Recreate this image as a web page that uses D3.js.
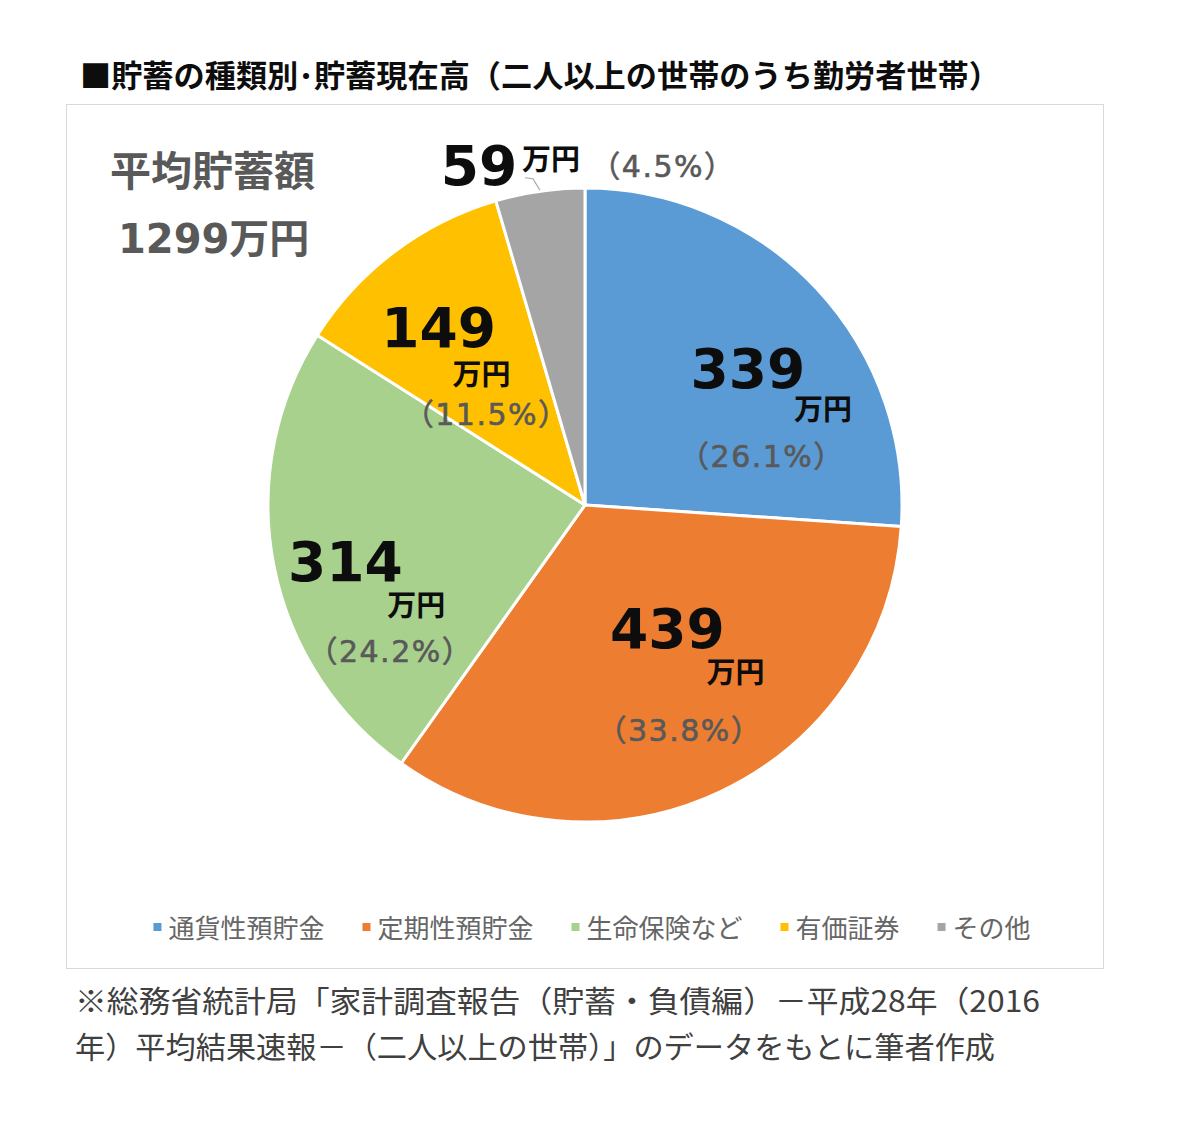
<!DOCTYPE html>
<html>
<head>
<meta charset="utf-8">
<script src="https://cdn.jsdelivr.net/npm/d3@7"></script>
<style>
  body { margin: 0; background: #fff; }
  svg { display: block; }
</style>
</head>
<body>
<div id="chart"></div>
<script>
// data
var categories = ["通貨性預貯金", "定期性預貯金", "生命保険など", "有価証券", "その他"];
var amounts = [339, 439, 314, 149, 59];
var shares = ["26.1%", "33.8%", "24.2%", "11.5%", "4.5%"];
var colors = ["#5B9BD5", "#ED7D31", "#A9D18E", "#FFC000", "#A5A5A5"];
var totalLabel = "1299万円";

// label layout: shift from centroid, then unit / percent offsets from number
var labelShift = [[24, 13], [1, -29], [-53, 39], [-32, -6], [-79, -132]];
var unitOff = [[75, 32], [68, 35], [71, 35], [43, 38], [72, -15]];
var pctOff = [[14, 79], [12, 93], [45, 81], [48, 78], [184, -8]];

var width = 1200, height = 1130;
var cx = 585, cy = 505, radius = 317;

var svg = d3.select("#chart").append("svg")
	.attr("width", width)
	.attr("height", height);

// title
svg.append("text")
	.attr("x", 80)
	.attr("y", 87)
	.attr("font-family", "Noto Sans CJK JP")
	.attr("font-weight", "bold")
	.attr("font-size", 31)
	.attr("fill", "#0d0d0d")
	.attr("textLength", 920)
	.attr("lengthAdjust", "spacingAndGlyphs")
	.text("■貯蓄の種類別･貯蓄現在高（二人以上の世帯のうち勤労者世帯）");

// chart frame
svg.append("rect")
	.attr("x", 66.5)
	.attr("y", 104.5)
	.attr("width", 1037)
	.attr("height", 864)
	.attr("fill", "#fff")
	.attr("stroke", "#d9d9d9");

svg.append("text")
	.attr("x", 110)
	.attr("y", 186)
	.attr("font-family", "Noto Sans CJK JP")
	.attr("font-weight", "bold")
	.attr("font-size", 41)
	.attr("fill", "#595959")
	.text("平均貯蓄額");

svg.append("text")
	.attr("x", 118)
	.attr("y", 253)
	.attr("font-family", "DejaVu Sans, Noto Sans CJK JP")
	.attr("font-weight", "bold")
	.attr("font-size", 40)
	.attr("fill", "#595959")
	.text(totalLabel);

var pie = d3.pie().sort(null).value(d => d);
var arcs = pie(amounts);

var arc = d3.arc().innerRadius(0).outerRadius(radius);
var labelArc = d3.arc().innerRadius(radius * 0.6).outerRadius(radius * 0.6);
var outerArc = d3.arc().innerRadius(radius).outerRadius(radius);

var g = svg.append("g")
	.attr("transform", "translate(" + cx + "," + cy + ")");

g.selectAll("path.slice")
	.data(arcs)
	.enter()
	.append("path")
	.attr("class", "slice")
	.attr("d", arc)
	.attr("fill", (d, i) => colors[i])
	.attr("stroke", "#fff")
	.attr("stroke-width", 3)
	.attr("stroke-linejoin", "round");

var labels = g.selectAll("g.label")
	.data(arcs)
	.enter()
	.append("g")
	.attr("class", "label")
	.attr("transform", (d, i) => {
		var c = labelArc.centroid(d);
		return "translate(" + (c[0] + labelShift[i][0]) + "," + (c[1] + labelShift[i][1]) + ")";
	});

labels.append("text")
	.attr("text-anchor", "middle")
	.attr("font-family", "DejaVu Sans")
	.attr("font-weight", "bold")
	.attr("font-size", 55)
	.attr("fill", "#0d0d0d")
	.text(d => d.data);

labels.append("text")
	.attr("text-anchor", "middle")
	.attr("x", (d, i) => unitOff[i][0])
	.attr("y", (d, i) => unitOff[i][1])
	.attr("font-family", "Noto Sans CJK JP")
	.attr("font-weight", "bold")
	.attr("font-size", 29)
	.attr("fill", "#0d0d0d")
	.text("万円");

labels.append("text")
	.attr("text-anchor", "middle")
	.attr("x", (d, i) => pctOff[i][0])
	.attr("y", (d, i) => pctOff[i][1])
	.attr("font-family", "DejaVu Sans, Noto Sans CJK JP")
	.attr("font-size", 30)
	.attr("letter-spacing", 1.5)
	.attr("fill", "#595959")
	.attr("stroke", "#595959")
	.attr("stroke-width", 0.6)
	.text((d, i) => "（" + shares[i] + "）");

// leader line for the small slice
var small = arcs[4];
var sc = labelArc.centroid(small);
var sx = sc[0] + labelShift[4][0] + unitOff[4][0] - 26;
var sy = sc[1] + labelShift[4][1] + unitOff[4][1] + 8;
var end = outerArc.centroid(small);
g.append("path")
	.attr("d", "M" + sx + "," + sy + "L" + (sx + 8) + "," + (sy + 1) + "L" + end[0] + "," + (end[1] - 1))
	.attr("fill", "none")
	.attr("stroke", "#a6a6a6")
	.attr("stroke-width", 1.2);

// legend
var legend = svg.append("g")
	.attr("transform", "translate(0,938)");

var items = legend.selectAll("g.item")
	.data(categories)
	.enter()
	.append("g")
	.attr("class", "item");

items.append("rect")
	.attr("y", -15)
	.attr("width", 8)
	.attr("height", 8)
	.attr("fill", (d, i) => colors[i]);

items.append("text")
	.attr("x", 15)
	.attr("font-family", "Noto Sans CJK JP")
	.attr("font-size", 26)
	.attr("fill", "#666")
	.text(d => d);

var pos = 0;
var offsets = [];
items.each(function(d) {
	offsets.push(pos);
	var w = this.getBBox().width;
	pos += w + 38;
});
var legendWidth = pos - 38;
var legendStart = 592 - legendWidth / 2;
items.attr("transform", (d, i) => "translate(" + (legendStart + offsets[i]) + ",0)");

// footnote
var notes = ["※総務省統計局「家計調査報告（貯蓄・負債編）－平成28年（2016",
	"年）平均結果速報－（二人以上の世帯）」のデータをもとに筆者作成"];
var noteWidths = [965, 920];

svg.selectAll("text.note")
	.data(notes)
	.enter()
	.append("text")
	.attr("class", "note")
	.attr("x", 75)
	.attr("y", (d, i) => 1012 + i * 46)
	.attr("font-family", "Noto Sans CJK JP")
	.attr("font-size", 30)
	.attr("fill", "#404040")
	.attr("textLength", (d, i) => noteWidths[i])
	.attr("lengthAdjust", "spacingAndGlyphs")
	.text(d => d);
</script>
</body>
</html>
